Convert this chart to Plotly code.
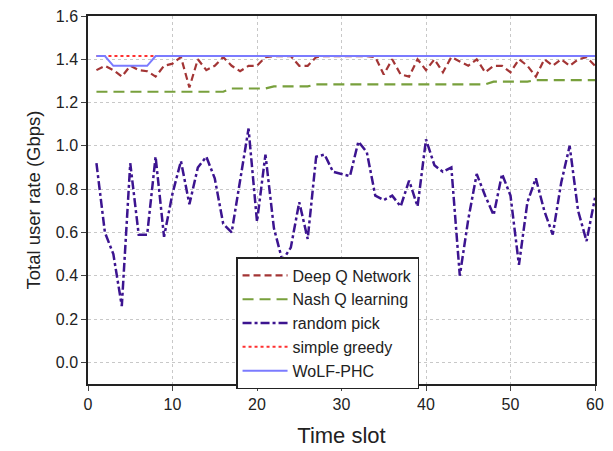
import plotly.graph_objects as go

time_slots = list(range(1, 61))

deep_q = [1.35, 1.37, 1.35, 1.32, 1.37, 1.35, 1.345, 1.32, 1.37, 1.38,
          1.41, 1.27, 1.40, 1.35, 1.37, 1.41, 1.37, 1.345, 1.37, 1.37,
          1.41, 1.415, 1.415, 1.415, 1.37, 1.37, 1.41, 1.415, 1.415, 1.415,
          1.415, 1.415, 1.415, 1.41, 1.33, 1.40, 1.33, 1.32, 1.40, 1.35,
          1.40, 1.34, 1.41, 1.39, 1.37, 1.40, 1.34, 1.37, 1.37, 1.34,
          1.40, 1.37, 1.32, 1.40, 1.37, 1.40, 1.37, 1.40, 1.41, 1.37]

nash_q = [1.25] * 16 + [1.265] * 5 + [1.275] * 5 + [1.284] * 21 + [1.297] * 5 + [1.304] * 8

random_pick = [0.92, 0.60, 0.50, 0.26, 0.92, 0.59, 0.59, 0.95, 0.58, 0.78,
               0.93, 0.73, 0.90, 0.95, 0.85, 0.64, 0.60, 0.85, 1.08, 0.65,
               0.96, 0.62, 0.47, 0.53, 0.74, 0.57, 0.95, 0.96, 0.88, 0.87,
               0.86, 1.02, 0.97, 0.77, 0.75, 0.77, 0.72, 0.84, 0.72, 1.03,
               0.91, 0.88, 0.90, 0.40, 0.66, 0.87, 0.77, 0.68, 0.87, 0.77,
               0.45, 0.74, 0.85, 0.70, 0.59, 0.83, 1.00, 0.70, 0.56, 0.76]

simple_greedy = [1.415] * 60

wolf_phc = [1.415, 1.415] + [1.37] * 5 + [1.415] * 53

x_ticks = [0, 10, 20, 30, 40, 50, 60]
y_ticks = [0.0, 0.2, 0.4, 0.6, 0.8, 1.0, 1.2, 1.4, 1.6]

fig = go.Figure()
fig.add_trace(go.Scatter(x=time_slots, y=deep_q, mode="lines", name="Deep Q Network",
                         line=dict(color="#a33535", width=2.2, dash="7px,4px")))
fig.add_trace(go.Scatter(x=time_slots, y=nash_q, mode="lines", name="Nash Q learning",
                         line=dict(color="#78a03c", width=2.2, dash="11px,6px")))
fig.add_trace(go.Scatter(x=time_slots, y=random_pick, mode="lines", name="random pick",
                         line=dict(color="#3c1490", width=2.5, dash="dashdot")))
fig.add_trace(go.Scatter(x=time_slots, y=simple_greedy, mode="lines", name="simple greedy",
                         line=dict(color="#ff3030", width=2, dash="dot")))
fig.add_trace(go.Scatter(x=time_slots, y=wolf_phc, mode="lines", name="WoLF-PHC",
                         line=dict(color="#7b7bff", width=2)))

fig.update_layout(
    width=613, height=451,
    margin=dict(l=88, r=18, t=16, b=67),
    paper_bgcolor="white", plot_bgcolor="white",
    font=dict(family="Liberation Sans, Arial, sans-serif", color="#222", size=15),
    legend=dict(x=0.292, y=0.345, xanchor="left", yanchor="top",
                bgcolor="white", bordercolor="#222", borderwidth=1.5,
                font=dict(size=16), itemwidth=45, tracegroupgap=0),
    showlegend=True,
)
fig.update_xaxes(range=[0, 60], tickvals=x_ticks, ticks="outside", ticklen=5,
                 showline=True, linecolor="#222", linewidth=1.5, mirror=True,
                 showgrid=True, gridcolor="#c8c8c8", griddash="dot", gridwidth=1,
                 zeroline=False, tickfont=dict(size=16), automargin=False,
                 title=dict(text="Time slot", font=dict(size=22), standoff=16))
fig.update_yaxes(range=[-0.1, 1.6], tickvals=y_ticks, tickformat=".1f", ticks="outside", ticklen=5,
                 showline=True, linecolor="#222", linewidth=1.5, mirror=True,
                 showgrid=True, gridcolor="#c8c8c8", griddash="dot", gridwidth=1,
                 zeroline=False, tickfont=dict(size=16), automargin=False,
                 title=dict(text="Total user rate (Gbps)", font=dict(size=18.5), standoff=10))

fig.write_html("out.html")
